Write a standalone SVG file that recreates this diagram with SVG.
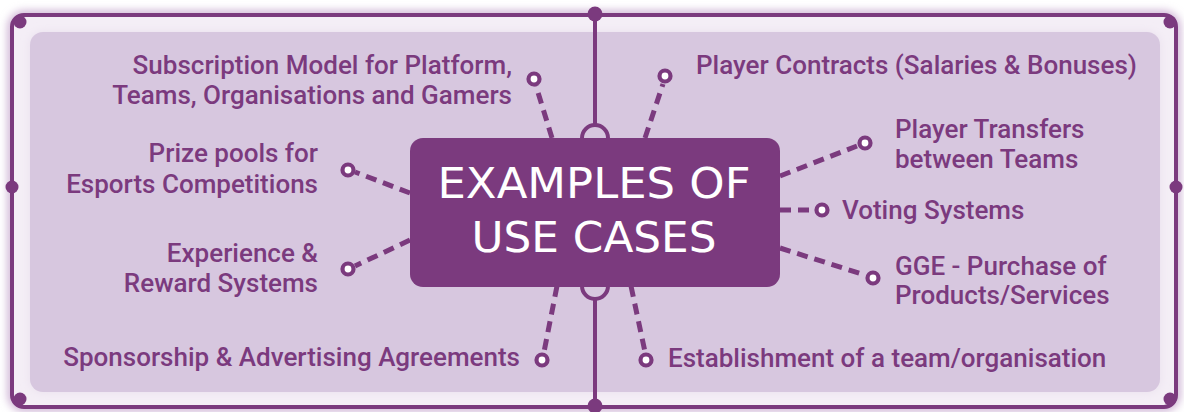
<svg xmlns="http://www.w3.org/2000/svg" width="1184" height="412" viewBox="0 0 1184 412">
<defs>
<style>
.lbl{font-family:Roboto,"Liberation Sans",sans-serif;font-weight:500;font-size:26px;fill:#7b3a7e}
.end{text-anchor:end}
.ttl{font-family:"DejaVu Sans","Liberation Sans",sans-serif;font-size:43px;fill:#ffffff;text-anchor:middle}
.dash{fill:none;stroke:#7b3a7e;stroke-width:5;stroke-dasharray:11 7;stroke-linecap:butt}
.pin{fill:#ffffff;stroke:#7b3a7e;stroke-width:4.2}
.dot{fill:#7b3a7e}
</style>
<filter id="glow" x="-5%" y="-10%" width="110%" height="120%">
<feGaussianBlur stdDeviation="4"/>
</filter>
</defs>
<rect width="1184" height="412" fill="#ffffff"/>
<g id="frame">
<rect x="12" y="15" width="1164" height="392" rx="12" fill="none" stroke="#c7a9cf" stroke-width="8" filter="url(#glow)"/>
<rect x="12" y="15" width="1164" height="392" rx="12" fill="#f4eef6" stroke="#7b3a7e" stroke-width="4"/>
<rect x="30" y="32" width="1130" height="360" rx="13" fill="#e9dfed" filter="url(#glow)"/>
<rect x="30" y="32" width="1130" height="360" rx="13" fill="#d7c7df"/>
<circle class="dot" cx="20" cy="22" r="6.5"/>
<circle class="dot" cx="1170" cy="22" r="6.5"/>
<circle class="dot" cx="20" cy="399" r="6.5"/>
<circle class="dot" cx="1170" cy="399" r="6.5"/>
<circle class="dot" cx="12" cy="187" r="6.5"/>
<circle class="dot" cx="1176" cy="187" r="6.5"/>
<circle class="dot" cx="595" cy="14" r="7.5"/>
<circle class="dot" cx="595" cy="406" r="7.5"/>
<line x1="595" y1="14" x2="595" y2="124" stroke="#7b3a7e" stroke-width="4"/>
<line x1="595" y1="300" x2="595" y2="406" stroke="#7b3a7e" stroke-width="4"/>
<circle cx="595" cy="138" r="13" fill="#d7c7df" stroke="#7b3a7e" stroke-width="4"/>
<circle cx="595" cy="286" r="13" fill="#d7c7df" stroke="#7b3a7e" stroke-width="4"/>
</g>
<g id="connectors">
<line class="dash" x1="552" y1="138" x2="536" y2="86"/>
<line class="dash" x1="410" y1="193" x2="355" y2="172"/>
<line class="dash" x1="410" y1="240" x2="355" y2="266"/>
<line class="dash" x1="557" y1="286" x2="544" y2="352"/>
<line class="dash" x1="631" y1="286" x2="645" y2="352"/>
<line class="dash" x1="645" y1="138" x2="663" y2="84"/>
<line class="dash" x1="780" y1="176" x2="857" y2="146"/>
<line class="dash" x1="780" y1="210" x2="814" y2="210"/>
<line class="dash" x1="780" y1="248" x2="865" y2="275"/>
</g>
<g id="center">
<rect x="410" y="138" width="370" height="149" rx="13" fill="#7b3a7e"/>
<text class="ttl" x="594" y="198" textLength="313" lengthAdjust="spacingAndGlyphs">EXAMPLES OF</text>
<text class="ttl" x="594" y="252" textLength="245" lengthAdjust="spacingAndGlyphs">USE CASES</text>
</g>
<g id="n-subscription">
<circle class="pin" cx="534" cy="79" r="5.5"/>
<text class="lbl end" x="512" y="74">Subscription Model for Platform,</text>
<text class="lbl end" x="512" y="104">Teams, Organisations and Gamers</text>
</g>
<g id="n-prize">
<circle class="pin" cx="348" cy="170" r="5.5"/>
<text class="lbl end" x="318" y="162">Prize pools for</text>
<text class="lbl end" x="318" y="193">Esports Competitions</text>
</g>
<g id="n-experience">
<circle class="pin" cx="348" cy="269" r="5.5"/>
<text class="lbl end" x="318" y="262">Experience &amp;</text>
<text class="lbl end" x="318" y="292">Reward Systems</text>
</g>
<g id="n-sponsorship">
<circle class="pin" cx="542" cy="360" r="5.5"/>
<text class="lbl end" x="520" y="366">Sponsorship &amp; Advertising Agreements</text>
</g>
<g id="n-contracts">
<circle class="pin" cx="665" cy="76" r="5.5"/>
<text class="lbl" x="696" y="74">Player Contracts (Salaries &amp; Bonuses)</text>
</g>
<g id="n-transfers">
<circle class="pin" cx="865" cy="143" r="5.5"/>
<text class="lbl" x="895" y="138">Player Transfers</text>
<text class="lbl" x="895" y="168">between Teams</text>
</g>
<g id="n-voting">
<circle class="pin" cx="822" cy="210" r="5.5"/>
<text class="lbl" x="842" y="219">Voting Systems</text>
</g>
<g id="n-gge">
<circle class="pin" cx="873" cy="278" r="5.5"/>
<text class="lbl" x="895" y="275">GGE - Purchase of</text>
<text class="lbl" x="895" y="304">Products/Services</text>
</g>
<g id="n-establishment">
<circle class="pin" cx="646" cy="360" r="5.5"/>
<text class="lbl" x="668" y="367">Establishment of a team/organisation</text>
</g>
</svg>
